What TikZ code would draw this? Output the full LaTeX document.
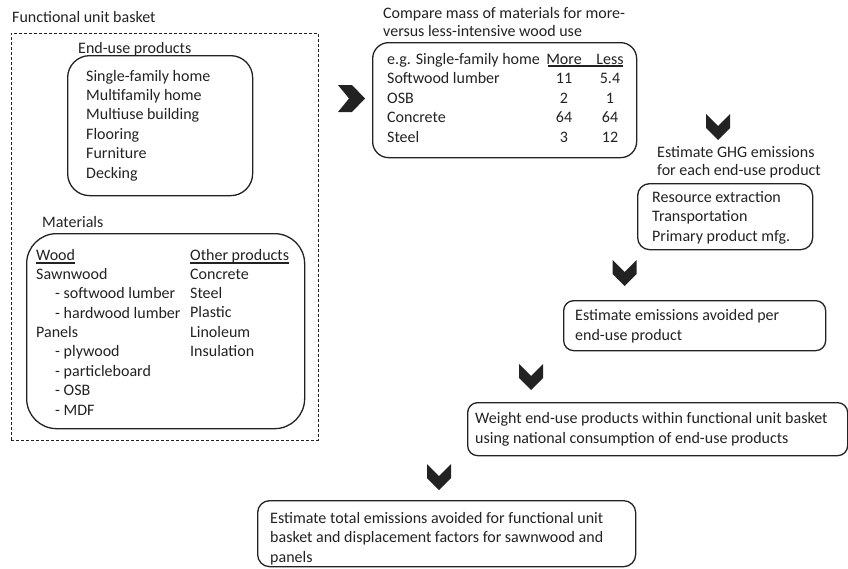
\documentclass[tikz,border=0pt]{standalone}
\usepackage{fontspec}
\setmainfont{Carlito}
\usepackage{xcolor}
\definecolor{ink}{HTML}{222222}
\newcommand{\dashitem}{\hspace*{19pt}- }

\begin{document}
\begin{tikzpicture}[x=1pt,y=-1pt,
    txt/.style={anchor=base west,inner sep=0pt,align=left,text=ink,font=\fontsize{16}{19.4}\selectfont},
    head/.style={txt,font=\fontsize{16}{18}\selectfont},
    col/.style={txt,anchor=base,align=center},
    rbox/.style={draw=ink,line width=1.3pt,inner sep=0pt,anchor=north west},
    uline/.style={ink,line width=1.2pt},
    chevdown/.pic={\fill[ink] (-12,0) -- (0,12) -- (12,0) -- (12,14) -- (0,26) -- (-12,14) -- cycle;},
    chevright/.pic={\fill[ink] (0,0) -- (14,0) -- (27,13.5) -- (14,27) -- (0,27) -- (11,13.5) -- cycle;}]
  \useasboundingbox (0,0) rectangle (848,568);
  % (multi-line texts sit on the baseline of their last line)

  % functional unit basket
  \node[txt] (basketlbl) at (12,22) {Functional unit basket};
  \node[rbox,draw=ink,line width=0.7pt,densely dashed,minimum width=307pt,minimum height=407pt] (basket) at (11,33) {};

  \node[txt] (enduselbl) at (78,53) {End-use products};
  \node[rbox,rounded corners=22pt,minimum width=185pt,minimum height=140pt] (enduse) at (67,55) {};
  \node[txt] (enduselist) at (86,178) {Single-family home\\Multifamily home\\Multiuse building\\Flooring\\Furniture\\Decking};

  \node[txt] (matlbl) at (42,227) {Materials};
  \node[rbox,rounded corners=30pt,minimum width=278pt,minimum height=195pt] (mat) at (26,233) {};
  \node[txt] (woodlbl) at (36,260) {Wood};
  \node[txt] (woodlist) at (36,415) {Sawnwood\\\dashitem softwood lumber\\\dashitem hardwood lumber\\Panels\\\dashitem plywood\\\dashitem particleboard\\\dashitem OSB\\\dashitem MDF};
  \node[txt] (otherlbl) at (190,260) {Other products};
  \node[txt] (otherlist) at (190,356.6) {Concrete\\Steel\\Plastic\\Linoleum\\Insulation};
  \draw[uline] ([yshift=-3pt]woodlbl.base west) -- ([yshift=-3pt]woodlbl.base east);
  \draw[uline] ([yshift=-3pt]otherlbl.base west) -- ([yshift=-3pt]otherlbl.base east);

  \pic at (338,85) {chevright};

  % compare masses
  \node[head] (comparelbl) at (383,36) {Compare mass of materials for more-\\versus less-intensive wood use};
  \node[rbox,rounded corners=16pt,minimum width=264pt,minimum height=115pt] (compare) at (372,42) {};
  \node[txt] (rowlist) at (387,142) {e.g. Single-family home\\Softwood lumber\\OSB\\Concrete\\Steel};
  \node[col] (morecol) at (564,142) {More\\11\\2\\64\\3};
  \node[col] (lesscol) at (610,142) {Less\\5.4\\1\\64\\12};
  \draw[uline] (548,66) -- (623,66);

  \pic at (718,114) {chevdown};

  % GHG emissions
  \node[head] (ghglbl) at (657,175) {Estimate GHG emissions\\for each end-use product};
  \node[rbox,rounded corners=12pt,minimum width=175pt,minimum height=66pt] (ghg) at (637,183) {};
  \node[txt] (ghglist) at (652,241) {Resource extraction\\Transportation\\Primary product mfg.};

  \pic at (624.5,260) {chevdown};

  \node[rbox,rounded corners=10pt,minimum width=262pt,minimum height=50pt] (avoided) at (563,300) {};
  \node[txt] (avoidedtxt) at (575,340) {Estimate emissions avoided per\\end-use product};

  \pic at (531,364) {chevdown};

  \node[rbox,rounded corners=10pt,minimum width=380pt,minimum height=53pt] (weight) at (467,402) {};
  \node[txt] (weighttxt) at (475,443) {Weight end-use products within functional unit basket\\using national consumption of end-use products};

  \pic at (439,464) {chevdown};

  \node[rbox,rounded corners=12pt,minimum width=378pt,minimum height=66pt] (total) at (257,500) {};
  \node[txt] (totaltxt) at (270,562) {Estimate total emissions avoided for functional unit\\basket and displacement factors for sawnwood and\\panels};
\end{tikzpicture}
\end{document}
